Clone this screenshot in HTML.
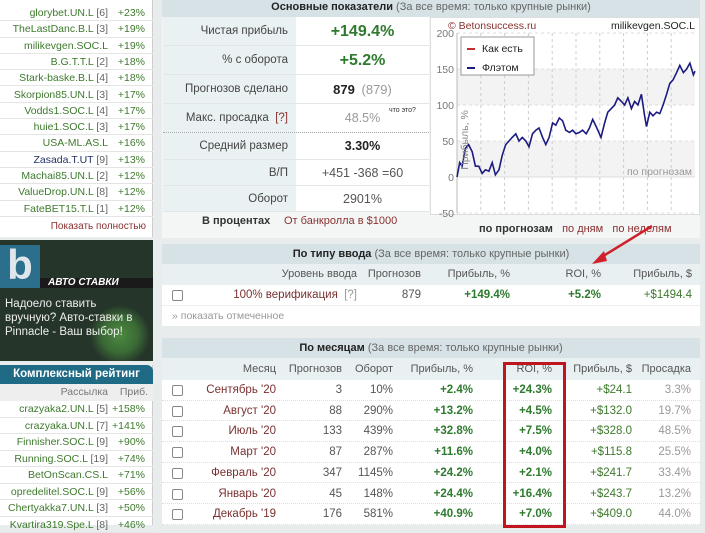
<!DOCTYPE html>
<html><head><meta charset="utf-8">
<style>
*{box-sizing:border-box;margin:0;padding:0}
body{width:705px;height:525px;overflow:hidden;background:#e9ecec;font-family:"Liberation Sans",sans-serif;font-size:11px;color:#555;position:relative}
.abs{position:absolute}
.side{left:0;top:0;width:153px;background:#fff;border-right:1px solid #ccc}
.srow{position:absolute;left:0;width:153px;height:17px;border-bottom:1px solid #e4e4e4;font-size:10.5px;line-height:17px}
.srow .n{position:absolute;right:45px;color:#3d7a2c}
.srow .n b{font-weight:normal;color:#666}
.srow .p{position:absolute;right:8px;color:#3d7a2c}
.hdr{background:#d6e2e6;text-align:center;color:#333;font-size:11px;line-height:20px;height:20px}
.hdr b{font-weight:bold;color:#222}
.hdr span{color:#666}
.g{color:#2e7a2e;font-weight:bold}
.cell{position:absolute;text-align:right;font-size:11px}
.cb{position:absolute;width:11px;height:11px;border:1px solid #888;border-radius:2px;background:#fff}
</style></head><body>

<div class="abs side" style="height:237px">
 <div id="toprows"></div>
 <div class="abs" style="right:6px;top:221px;color:#8a3030;font-size:10px">Показать полностью</div>
</div>

<div class="abs" style="left:0;top:240px;width:153px;height:121px;background:radial-gradient(circle at 120px 95px,#4c8a40 0,#3a6a35 18px,#26352a 30px),#26352a">
 <div class="abs" style="left:0;top:5px;width:40px;height:43px;background:#2b6f8c;color:#dfe7ea;font-size:42px;font-weight:bold;line-height:40px;text-align:center">b</div>
 <div class="abs" style="left:40px;top:38px;width:113px;height:10px;background:#1a1a1a;color:#fff;font-size:10px;font-style:italic;font-weight:bold;line-height:10px;padding-left:8px">АВТО СТАВКИ</div>
 <div class="abs" style="left:5px;top:57px;width:145px;color:#eee;font-size:11.5px;line-height:14px">Надоело ставить вручную? Авто-ставки в Pinnacle - Ваш выбор!</div>
</div>

<div class="abs side" style="top:365px;height:160px">
 <div class="abs" style="left:0;top:0;width:153px;height:19px;background:#1f6b86;color:#fff;font-weight:bold;font-size:11.5px;text-align:center;line-height:19px;border-radius:0 6px 0 0">Комплексный рейтинг</div>
 <div class="abs" style="left:0;top:19px;width:153px;height:17px;background:#eee;font-size:10.5px;line-height:17px;color:#777"><span class="abs" style="right:45px">Рассылка</span><span class="abs" style="right:5px">Приб.</span></div>
 <div id="crrows"></div>
</div>

<!-- main stats -->
<div class="abs" style="left:162px;top:0;width:538px;height:238px;background:#f4f6f6">
 <div class="hdr" style="height:17px;line-height:15px"><b>Основные показатели</b> <span>(За все время: только крупные рынки)</span></div>
 <div id="stats"></div>
 <div class="abs" style="left:40px;top:215px;font-weight:bold;color:#333">В процентах</div>
 <div class="abs" style="left:122px;top:215px;color:#8a3030">От банкролла в $1000</div>
 <div class="abs" style="left:268px;top:17px;width:270px;height:198px;background:#fff;border:1px solid #ddd"></div>
 <svg class="abs" id="chart" style="left:0;top:0" width="538" height="238"></svg>
 <div class="abs" style="left:317px;top:223px;font-size:11px"><b style="color:#333">по прогнозам</b> &nbsp; <span style="color:#8a3030">по дням</span> &nbsp; <span style="color:#8a3030">по неделям</span></div>
</div>

<!-- by type -->
<div class="abs" style="left:162px;top:244px;width:538px;height:82px;background:#fff">
 <div class="hdr"><b>По типу ввода</b> <span>(За все время: только крупные рынки)</span></div>
 <div class="abs" style="left:0;top:20px;width:538px;height:21px;background:#e9f0f2"></div>
 <div class="abs" style="left:0;top:41px;width:538px;height:21px;border-bottom:1px solid #eee"></div>
 <div class="cell" style="right:343px;top:24px">Уровень ввода</div>
 <div class="cell" style="right:279px;top:24px">Прогнозов</div>
 <div class="cell" style="right:190px;top:24px">Прибыль, %</div>
 <div class="cell" style="right:99px;top:24px">ROI, %</div>
 <div class="cell" style="right:8px;top:24px">Прибыль, $</div>
 <div class="cb" style="left:10px;top:46px"></div>
 <div class="cell" style="right:343px;top:45px;color:#7a3030;font-size:11.5px">100% верификация &nbsp;<span style="color:#999">[?]</span></div>
 <div class="cell" style="right:279px;top:45px;font-size:11.5px">879</div>
 <div class="cell g" style="right:190px;top:45px;font-size:11.5px">+149.4%</div>
 <div class="cell g" style="right:99px;top:45px;font-size:11.5px">+5.2%</div>
 <div class="cell" style="right:8px;top:45px;color:#3d7a2c;font-size:11.5px">+$1494.4</div>
 <div class="abs" style="left:10px;top:66px;color:#999;font-size:10.5px">» показать отмеченное</div>
</div>

<!-- by month -->
<div class="abs" style="left:162px;top:338px;width:538px;height:187px;background:#fff">
 <div class="hdr"><b>По месяцам</b> <span>(За все время: только крупные рынки)</span></div>
 <div class="abs" style="left:0;top:20px;width:538px;height:22px;background:#e9f0f2"></div>
 <div id="mhead"></div>
 <div id="mrows"></div>
 <div class="abs" style="left:341px;top:24px;width:63px;height:166px;border:3px solid #c0141e"></div>
</div>

<svg class="abs" style="left:0;top:0" width="705" height="525">
 <line x1="652" y1="226" x2="600" y2="258" stroke="#d0202a" stroke-width="2.5"/>
 <polygon points="592,264 604,251 607,261" fill="#d0202a"/>
</svg>

<script>
// sidebar data
const topNames=["glorybet.UN.L","TheLastDanc.B.L","milikevgen.SOC.L","B.G.T.T.L","Stark-baske.B.L","Skorpion85.UN.L","Vodds1.SOC.L","huie1.SOC.L","USA-ML.AS.L","Zasada.T.UT","Machai85.UN.L","ValueDrop.UN.L","FateBET15.T.L"];
const topCounts=["[6]","[3]","","[2]","[4]","[3]","[4]","[3]","","[9]","[2]","[8]","[1]"];
const topProfit=["+23%","+19%","+19%","+18%","+18%","+17%","+17%","+17%","+16%","+13%","+12%","+12%","+12%"];
const crNames=["crazyaka2.UN.L","crazyaka.UN.L","Finnisher.SOC.L","Running.SOC.L","BetOnScan.CS.L","opredelitel.SOC.L","Chertyakka7.UN.L","Kvartira319.Spe.L"];
const crCounts=["[5]","[7]","[9]","[19]","","[9]","[3]","[8]"];
const crProfit=["+158%","+141%","+90%","+74%","+71%","+56%","+50%","+46%"];
function rows(id,names,counts,prof,top,h){
 const c=document.getElementById(id);
 names.forEach((n,i)=>{
  const d=document.createElement('div');d.className='srow';d.style.top=(top+i*h)+'px';d.style.height=h+'px';d.style.lineHeight=h+'px';
  
  
  const col=n==="Zasada.T.UT"?"#223366":"#3d7a2c";
  d.innerHTML='<span class="n" style="color:'+col+'">'+n+(counts[i]?' <b>'+counts[i]+'</b>':'')+'</span><span class="p">'+prof[i]+'</span>';
  c.appendChild(d);
 });
}
rows('toprows',topNames,topCounts,topProfit,5,16.3);
rows('crrows',crNames,crCounts,crProfit,36,16.5);

// main stats
const statLabels=["Чистая прибыль","% с оборота","Прогнозов сделано","Макс. просадка","Средний размер","В/П","Оборот"];
const statValues=['<span class="g" style="font-size:16px">+149.4%</span>','<span class="g" style="font-size:16px">+5.2%</span>','<b style="color:#222;font-size:13px">879</b> <span style="color:#999;font-size:13px">&nbsp;(879)</span>','<span style="color:#999;font-size:12.5px">48.5%</span><span style="font-size:7px;color:#333;position:absolute;left:93px;top:-8px">что это?</span>','<b style="color:#222;font-size:12.5px">3.30%</b>','<span style="font-size:12.5px">+451 -368 =60</span>','<span style="font-size:12.5px">2901%</span>'];
const statTops=[17,46,75,104,133,160,186];
const statH=[29,29,29,29,27,26,26];
const st=document.getElementById('stats');
statLabels.forEach((l,i)=>{
 const r=document.createElement('div');
 
 
 r.style.cssText='position:absolute;left:1px;top:'+statTops[i]+'px;width:266px;height:'+statH[i]+'px;border-bottom:1px '+(i==3?'dotted #aaa':'solid #e2e6e6')+';line-height:'+statH[i]+'px';
 r.innerHTML='<div style="position:absolute;left:0;top:0;width:133px;height:100%;background:#eaf1f3;text-align:right;padding-right:8px;color:#444;font-size:11.5px">'+l+(i==3?' &nbsp;<span style="color:#8a3030">[?]</span>':'')+'</div><div style="position:absolute;left:133px;top:0;width:133px;height:100%;background:#fff;text-align:center">'+statValues[i]+'</div>';
 st.appendChild(r);
});

// chart
const picks=[0,10,19,31,43,56,68,80,93,105,118,130,142,155,167,180,192,204,217,229,241,254,266,279,291,303,316,328,340,353,365,378,390,402,415,427,439,452,464,477,489,501,514,526,532,545,557,570,582,594,607,619,631,644,656,668,681,693,700,712,724,737,749,761,774,786,798,811,823,836,848,860,873,879];
const profit=[0,20,15,40,45,35,15,15,5,10,8,20,3,10,30,45,50,55,60,50,55,50,42,60,65,68,55,45,55,75,72,82,78,65,62,65,60,62,65,60,68,80,70,60,55,75,90,95,100,110,105,100,110,95,105,100,115,85,70,90,85,90,88,100,115,130,135,145,155,145,150,158,142,147];
const yTicks=[200,150,100,50,0,-50];
const svg=document.getElementById('chart');const NS='http://www.w3.org/2000/svg';
const X0=295,X1=533,maxPick=879;
const xs=v=>X0+(v/maxPick)*(X1-X0);
const ys=v=>177-v*(36/50);
function el(t,a,txt){const e=document.createElementNS(NS,t);for(const k in a)e.setAttribute(k,a[k]);if(txt!=null)e.textContent=txt;svg.appendChild(e);return e;}
[[0,50],[100,150]].forEach(b=>{const e=el('rect',{x:X0,y:ys(b[1]),width:X1-X0,height:ys(b[0])-ys(b[1]),fill:'#f3f3f3'});});
for(let i=1;i<10;i++){const e=el('line',{x1:X0+i*(X1-X0)/10,x2:X0+i*(X1-X0)/10,y1:ys(200),y2:ys(-50),stroke:'#ccc','stroke-dasharray':'3,3'});}
yTicks.forEach(t=>{
 const l=el('line',{x1:X0,x2:X1,y1:ys(t),y2:ys(t),stroke:'#ddd','stroke-dasharray':t==0?'':'3,3'});
 const tx=el('text',{x:X0-3,y:ys(t)+4,'text-anchor':'end','font-size':10.5,fill:'#777','font-family':'Liberation Sans'},t);
});
el('line',{x1:X0,x2:X0,y1:ys(200),y2:ys(-50),stroke:'#bbb'});
let d='';picks.forEach((p,i)=>{d+=(i?'L':'M')+xs(p).toFixed(1)+','+ys(profit[i]).toFixed(1);});
const ln=el('path',{d:d,fill:'none',stroke:'#1c1c80','stroke-width':1.6});
const yt=el('text',{x:0,y:0,transform:'translate(306,140) rotate(-90)','font-size':10.5,fill:'#888','text-anchor':'middle','font-family':'Liberation Sans'},'Прибыль, %');
el('text',{x:286,y:29,'font-size':10.5,fill:'#8a3030','font-family':'Liberation Sans'},'© Betonsuccess.ru');
el('text',{x:533,y:29,'font-size':10.5,fill:'#222','text-anchor':'end','font-family':'Liberation Sans'},'milikevgen.SOC.L');
el('text',{x:530,y:175,'font-size':10.5,fill:'#999','text-anchor':'end','font-family':'Liberation Sans'},'по прогнозам');
const lg=el('rect',{x:299,y:37,width:73,height:38,fill:'#fff',stroke:'#999'});
el('line',{x1:305,x2:313,y1:49,y2:49,stroke:'#c03030','stroke-width':2});
el('text',{x:320,y:52,'font-size':10.5,fill:'#222','font-family':'Liberation Sans'},'Как есть');
el('line',{x1:305,x2:313,y1:68,y2:68,stroke:'#1c1c80','stroke-width':2});
el('text',{x:320,y:71,'font-size':10.5,fill:'#222','font-family':'Liberation Sans'},'Флэтом');

// months table
const mCols=["Месяц","Прогнозов","Оборот","Прибыль, %","ROI, %","Прибыль, $","Просадка"];
const mRight=[424,358,307,227,148,68,9];
const months=["Сентябрь '20","Август '20","Июль '20","Март '20","Февраль '20","Январь '20","Декабрь '19"];
const mPicks=[3,88,133,87,347,45,176];
const mTurn=["10%","290%","439%","287%","1145%","148%","581%"];
const mProfit=["+2.4%","+13.2%","+32.8%","+11.6%","+24.2%","+24.4%","+40.9%"];
const mRoi=["+24.3%","+4.5%","+7.5%","+4.0%","+2.1%","+16.4%","+7.0%"];
const mUsd=["+$24.1","+$132.0","+$328.0","+$115.8","+$241.7","+$243.7","+$409.0"];
const mDd=["3.3%","19.7%","48.5%","25.5%","33.4%","13.2%","44.0%"];
const mh=document.getElementById('mhead');
mCols.forEach((c,i)=>{const d=document.createElement('div');d.className='cell';d.style.right=mRight[i]+'px';d.style.top='25px';d.textContent=c;
 
 
 mh.appendChild(d);});
const mr=document.getElementById('mrows');
months.forEach((m,i)=>{
 const top=42+i*20.7;
 const r=document.createElement('div');
 
 
 r.style.cssText='position:absolute;left:0;top:'+top+'px;width:538px;height:20.7px;border-bottom:1px dotted #ddd;font-size:11.5px;line-height:20px';
 const vals=[[m,'#7a3030',''],[mPicks[i],'#555',''],[mTurn[i],'#555',''],[mProfit[i],'#2e7a2e','bold'],[mRoi[i],'#2e7a2e','bold'],[mUsd[i],'#3d7a2c',''],[mDd[i],'#999','']];
 let h='<div class="cb" style="left:10px;top:5px"></div>';
 vals.forEach((v,j)=>{h+='<div style="position:absolute;right:'+mRight[j]+'px;top:0;color:'+v[1]+';font-weight:'+(v[2]||'normal')+'">'+v[0]+'</div>';});
 r.innerHTML=h;mr.appendChild(r);
});
</script>
</body></html>
